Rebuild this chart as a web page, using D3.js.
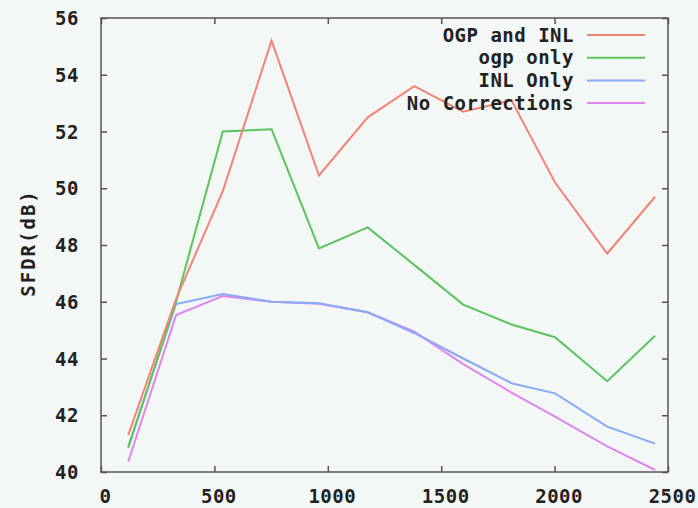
<!DOCTYPE html>
<html>
<head>
<meta charset="utf-8">
<script src="https://cdn.jsdelivr.net/npm/d3@7"></script>
<style>
  body { margin: 0; background: #f3f7f6; }
  svg { display: block; }
  text { font-family: "DejaVu Sans Mono", monospace; font-weight: bold; font-size: 19px; fill: #222; letter-spacing: 0.5px; }
</style>
</head>
<body>
<div id="chart"></div>
<script>
// sample frequencies (x)
var freqs = [120, 331, 537, 752, 961, 1176, 1381, 1597, 1810, 2002, 2232, 2443];

// SFDR values per series
var ogpInl   = [41.3, 46.1, 49.9, 55.2, 50.45, 52.5, 53.6, 52.7, 53.1, 50.2, 47.7, 49.7];
var ogpOnly  = [40.85, 46.0, 52.0, 52.08, 47.88, 48.62, 47.3, 45.9, 45.2, 44.75, 43.2, 44.8];
var inlOnly  = [40.9, 45.92, 46.27, 46.0, 45.95, 45.63, 44.9, 44.0, 43.13, 42.77, 41.6, 41.0];
var noCorr   = [40.36, 45.53, 46.2, 46.0, 45.93, 45.63, 44.95, 43.8, 42.8, 41.95, 40.9, 40.07];

var seriesNames = ["OGP and INL", "ogp only", "INL Only", "No Corrections"];
var seriesColors = ["#f28472", "#5cc45c", "#86aaf6", "#e184f0"];

var xTicks = [0, 500, 1000, 1500, 2000, 2500];
var yTicks = [40, 42, 44, 46, 48, 50, 52, 54, 56];

var svgWidth = 698;
var svgHeight = 508;
var margin = { top: 18, right: 30, bottom: 36, left: 101 };
var width = svgWidth - margin.left - margin.right;
var height = svgHeight - margin.top - margin.bottom;

var svg = d3.select("#chart")
    .append("svg")
    .attr("width", svgWidth)
    .attr("height", svgHeight);

var chartGroup = svg.append("g")
    .attr("transform", `translate(${margin.left}, ${margin.top})`);

var x = d3.scaleLinear().domain([0, 2500]).range([0, width]);
var y = d3.scaleLinear().domain([40, 56]).range([height, 0]);

// inward ticks on all four sides, like gnuplot
function styleAxis(g) {
    g.select(".domain").remove();
    g.selectAll(".tick line").attr("stroke", "#555").attr("stroke-width", 1.5);
}

chartGroup.append("g")
    .attr("transform", `translate(0, ${height})`)
    .call(d3.axisBottom(x).tickValues(xTicks).tickSize(-6).tickPadding(18).tickFormat(d3.format("d")))
    .call(styleAxis)
    .selectAll("text").attr("dx", 4).attr("font-size", null).attr("font-family", null);

chartGroup.append("g")
    .call(d3.axisTop(x).tickValues(xTicks).tickSize(-6).tickFormat(""))
    .call(styleAxis);

chartGroup.append("g")
    .call(d3.axisLeft(y).tickValues(yTicks).tickSize(-6).tickPadding(22))
    .call(styleAxis)
    .selectAll("text").attr("dy", "0.35em").attr("font-size", null).attr("font-family", null);

chartGroup.append("g")
    .attr("transform", `translate(${width}, 0)`)
    .call(d3.axisRight(y).tickValues(yTicks).tickSize(-6).tickFormat(""))
    .call(styleAxis);

// frame
chartGroup.append("rect")
    .attr("width", width)
    .attr("height", height)
    .attr("fill", "none")
    .attr("stroke", "#555")
    .attr("stroke-width", 1.5);

// y title
svg.append("text")
    .attr("transform", `translate(35, ${margin.top + height / 2 - 2}) rotate(-90)`)
    .attr("text-anchor", "middle")
    .style("letter-spacing", "2px")
    .text("SFDR(dB)");

var allSeries = [ogpInl, ogpOnly, inlOnly, noCorr];

var line = d3.line()
    .x((d, i) => x(freqs[i]))
    .y(d => y(d));

// draw back to front so red stays on top
for (var s = allSeries.length - 1; s >= 0; s--) {
    chartGroup.append("path")
        .datum(allSeries[s])
        .attr("fill", "none")
        .attr("stroke", seriesColors[s])
        .attr("stroke-width", 2)
        .attr("d", line);
}

// legend
var legend = svg.append("g");
seriesNames.forEach(function(name, i) {
    var ly = 35 + i * 22.7;
    legend.append("text")
        .attr("x", 574)
        .attr("y", ly)
        .attr("dy", "0.35em")
        .attr("text-anchor", "end")
        .text(name);
    legend.append("line")
        .attr("x1", 587).attr("x2", 645)
        .attr("y1", ly).attr("y2", ly)
        .attr("stroke", seriesColors[i])
        .attr("stroke-width", 2);
});
</script>
</body>
</html>
